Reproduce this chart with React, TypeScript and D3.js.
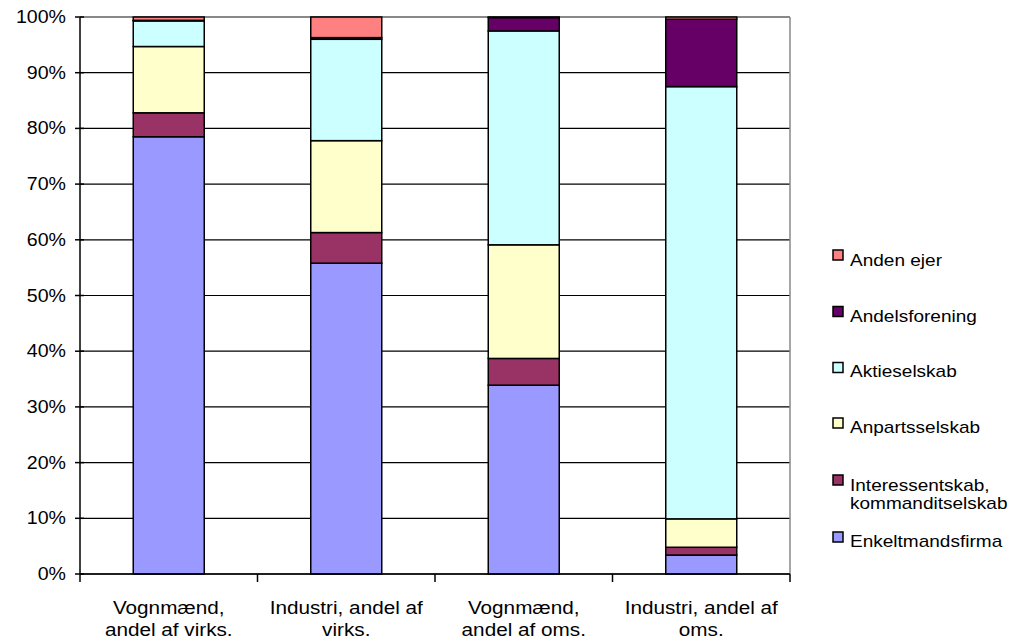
import React, { useEffect, useRef } from "react";
import * as d3 from "d3";

const categories = [
  ["Vognmænd,", "andel af virks."],
  ["Industri, andel af", "virks."],
  ["Vognmænd,", "andel af oms."],
  ["Industri, andel af", "oms."],
];
const seriesNames = [
  "Enkeltmandsfirma",
  "Interessentskab, kommanditselskab",
  "Anpartsselskab",
  "Aktieselskab",
  "Andelsforening",
  "Anden ejer",
];
const enkeltmandsfirma = [78.5, 55.8, 33.9, 3.4];
const interessentskab = [4.3, 5.5, 4.8, 1.4];
const anpartsselskab = [11.9, 16.5, 20.4, 5.1];
const aktieselskab = [4.6, 18.2, 38.4, 77.6];
const andelsforening = [0.1, 0.3, 2.4, 12.1];
const andenEjer = [0.6, 3.7, 0.1, 0.4];
const yTicks = [0, 10, 20, 30, 40, 50, 60, 70, 80, 90, 100];
const colors = ["#9999FF", "#993366", "#FFFFCC", "#CCFFFF", "#660066", "#FF8080"];

export default function App() {
  const ref = useRef<SVGSVGElement>(null);
  useEffect(() => {
    const svg = d3.select(ref.current);
    svg.selectAll("*").remove();
    const font = "'Liberation Sans', Arial, sans-serif";
    const SX = 1.12;
    const left = 80, right = 790, top = 17, bottom = 574;
    const y = d3.scaleLinear().domain([0, 100]).range([bottom, top]);
    const keys = categories.map((_, i) => String(i));
    const x = d3.scaleBand().domain(keys).range([left, right]).padding(0);
    const bw = x.bandwidth() / 2.5;

    const allSeries = [enkeltmandsfirma, interessentskab, anpartsselskab, aktieselskab, andelsforening, andenEjer];
    const rows = keys.map((k, i) => {
      const r: any = { key: k };
      seriesNames.forEach((s, j) => (r[s] = allSeries[j][i]));
      return r;
    });
    const stacked = d3.stack<any>().keys(seriesNames)(rows);

    // gridlines
    svg.append("g").selectAll("line").data(yTicks).join("line")
      .attr("x1", left).attr("x2", right)
      .attr("y1", (d) => y(d)).attr("y2", (d) => y(d))
      .attr("stroke", "#000").attr("stroke-width", 1.2);
    // plot border (gray)
    svg.append("line").attr("x1", left).attr("x2", right).attr("y1", top).attr("y2", top)
      .attr("stroke", "#888").attr("stroke-width", 2);
    svg.append("line").attr("x1", right).attr("x2", right).attr("y1", top).attr("y2", bottom)
      .attr("stroke", "#888").attr("stroke-width", 1.5);

    // bars
    stacked.forEach((s, j) => {
      svg.append("g").selectAll("rect").data(s).join("rect")
        .attr("x", (d: any) => (x(d.data.key) as number) + x.bandwidth() / 2 - bw / 2)
        .attr("width", bw)
        .attr("y", (d) => y(d[1]))
        .attr("height", (d) => Math.max(0, y(d[0]) - y(d[1])))
        .attr("fill", colors[j])
        .attr("stroke", "#000")
        .attr("stroke-width", 1.5);
    });

    // axes
    svg.append("line").attr("x1", left).attr("x2", left).attr("y1", top).attr("y2", bottom)
      .attr("stroke", "#000").attr("stroke-width", 1.5);
    svg.append("line").attr("x1", left).attr("x2", right).attr("y1", bottom).attr("y2", bottom)
      .attr("stroke", "#000").attr("stroke-width", 1.5);
    svg.append("g").selectAll("line").data(yTicks).join("line")
      .attr("x1", left - 5).attr("x2", left + 4)
      .attr("y1", (d) => y(d)).attr("y2", (d) => y(d))
      .attr("stroke", "#000").attr("stroke-width", 1.5);
    svg.append("g").selectAll("text").data(yTicks).join("text")
      .attr("transform", (d) => `translate(66,${y(d) + 6}) scale(${SX},1)`)
      .attr("text-anchor", "end")
      .attr("font-family", font).attr("font-size", 17.5)
      .text((d) => d + "%");

    const xTickPos = [...keys.map((k) => x(k) as number), right];
    svg.append("g").selectAll("line").data(xTickPos).join("line")
      .attr("x1", (d) => d).attr("x2", (d) => d)
      .attr("y1", bottom).attr("y2", bottom + 8)
      .attr("stroke", "#000").attr("stroke-width", 1.5);

    keys.forEach((k, i) => {
      const cx = (x(k) as number) + x.bandwidth() / 2;
      categories[i].forEach((line, li) => {
        svg.append("text")
          .attr("transform", `translate(${cx},${614 + li * 22}) scale(${SX},1)`)
          .attr("text-anchor", "middle")
          .attr("font-family", font).attr("font-size", 18.5)
          .text(line);
      });
    });

    // legend
    const legendItems = [
      { idx: 5, sq: 250, lines: ["Anden ejer"], base: 266 },
      { idx: 4, sq: 306.5, lines: ["Andelsforening"], base: 322 },
      { idx: 3, sq: 362.5, lines: ["Aktieselskab"], base: 377 },
      { idx: 2, sq: 418, lines: ["Anpartsselskab"], base: 433 },
      { idx: 1, sq: 475, lines: ["Interessentskab,", "kommanditselskab"], base: 491 },
      { idx: 0, sq: 532, lines: ["Enkeltmandsfirma"], base: 547 },
    ];
    legendItems.forEach((it) => {
      svg.append("rect").attr("x", 833).attr("y", it.sq).attr("width", 10).attr("height", 10)
        .attr("fill", colors[it.idx]).attr("stroke", "#000").attr("stroke-width", 1.5);
      it.lines.forEach((l, li) => {
        svg.append("text")
          .attr("transform", `translate(850,${it.base + li * 18}) scale(${SX},1)`)
          .attr("font-family", font).attr("font-size", 17)
          .text(l);
      });
    });
  }, []);
  return (
    <svg ref={ref} width={1009} height={642}
      style={{ position: "absolute", left: 0, top: 0, background: "#fff" }} />
  );
}
